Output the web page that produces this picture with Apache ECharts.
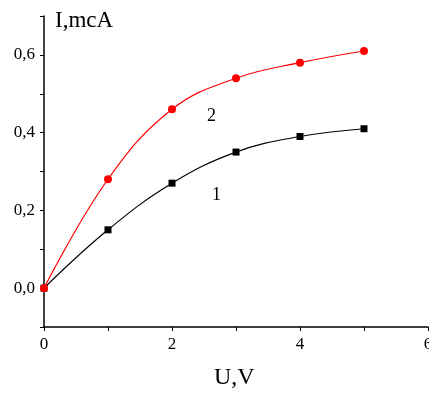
<!DOCTYPE html>
<html>
<head>
<meta charset="utf-8">
<script src="https://cdn.jsdelivr.net/npm/echarts@6/dist/echarts.min.js"></script>
<style>
  html, body { margin: 0; padding: 0; background: #fff; }
  #chart { width: 429px; height: 394px; }
</style>
</head>
<body>
<div id="chart"></div>
<script>
// voltage, V
const voltage = [0, 1, 2, 3, 4, 5]
// curve 1 (black squares), mcA
const current1 = [0, 0.15, 0.27, 0.35, 0.39, 0.41]
// curve 2 (red circles), mcA
const current2 = [0, 0.28, 0.46, 0.54, 0.58, 0.61]

const font = 'Liberation Serif'

function pairs(xs, ys) {
  return xs.map((x, i) => [x, ys[i]])
}

const chart = echarts.init(document.getElementById('chart'))
chart.setOption({
  animation: false,
  grid: { left: 44, right: 1, top: 16, bottom: 67, outerBoundsMode: 'none' },
  xAxis: {
    type: 'value',
    min: 0,
    max: 6,
    interval: 1,
    splitLine: { show: false },
    axisLine: { onZero: false, lineStyle: { color: '#000', width: 1.5 } },
    axisTick: { length: 4, lineStyle: { color: '#000' } },
    axisLabel: {
      color: '#000', fontFamily: font, fontSize: 17, margin: 9,
      formatter: v => (v % 2 === 0 ? String(v) : '')
    }
  },
  yAxis: {
    type: 'value',
    min: -0.1,
    max: 0.7,
    interval: 0.1,
    splitLine: { show: false },
    axisLine: { onZero: false, lineStyle: { color: '#000', width: 1.5 } },
    axisTick: { length: 4, lineStyle: { color: '#000' } },
    axisLabel: {
      color: '#000', fontFamily: font, fontSize: 17, margin: 9,
      formatter: v => {
        const k = Math.round(v * 10)
        if (k < 0 || k % 2 !== 0) return ''
        return (k / 10).toFixed(1).replace('.', ',')
      }
    }
  },
  graphic: [
    { type: 'text', left: 55, top: 9, style: { text: 'I,mcA', font: '23px "Liberation Serif"', fill: '#000' } },
    { type: 'text', left: 214, top: 366, style: { text: 'U,V', font: '24px "Liberation Serif"', fill: '#000' } },
    { type: 'text', left: 212, top: 186, style: { text: '1', font: '18px "Liberation Serif"', fill: '#000' } },
    { type: 'text', left: 207, top: 107, style: { text: '2', font: '18px "Liberation Serif"', fill: '#000' } }
  ],
  series: [
    {
      type: 'line',
      data: pairs(voltage, current1),
      smooth: 0.4,
      symbol: 'rect',
      symbolSize: 7,
      lineStyle: { color: '#000', width: 1.2 },
      itemStyle: { color: '#000' },
      z: 2
    },
    {
      type: 'line',
      data: pairs(voltage, current2),
      smooth: 0.4,
      symbol: 'circle',
      symbolSize: 8,
      lineStyle: { color: '#ff0000', width: 1.2 },
      itemStyle: { color: '#ff0000' },
      z: 3
    }
  ]
})
</script>
</body>
</html>
